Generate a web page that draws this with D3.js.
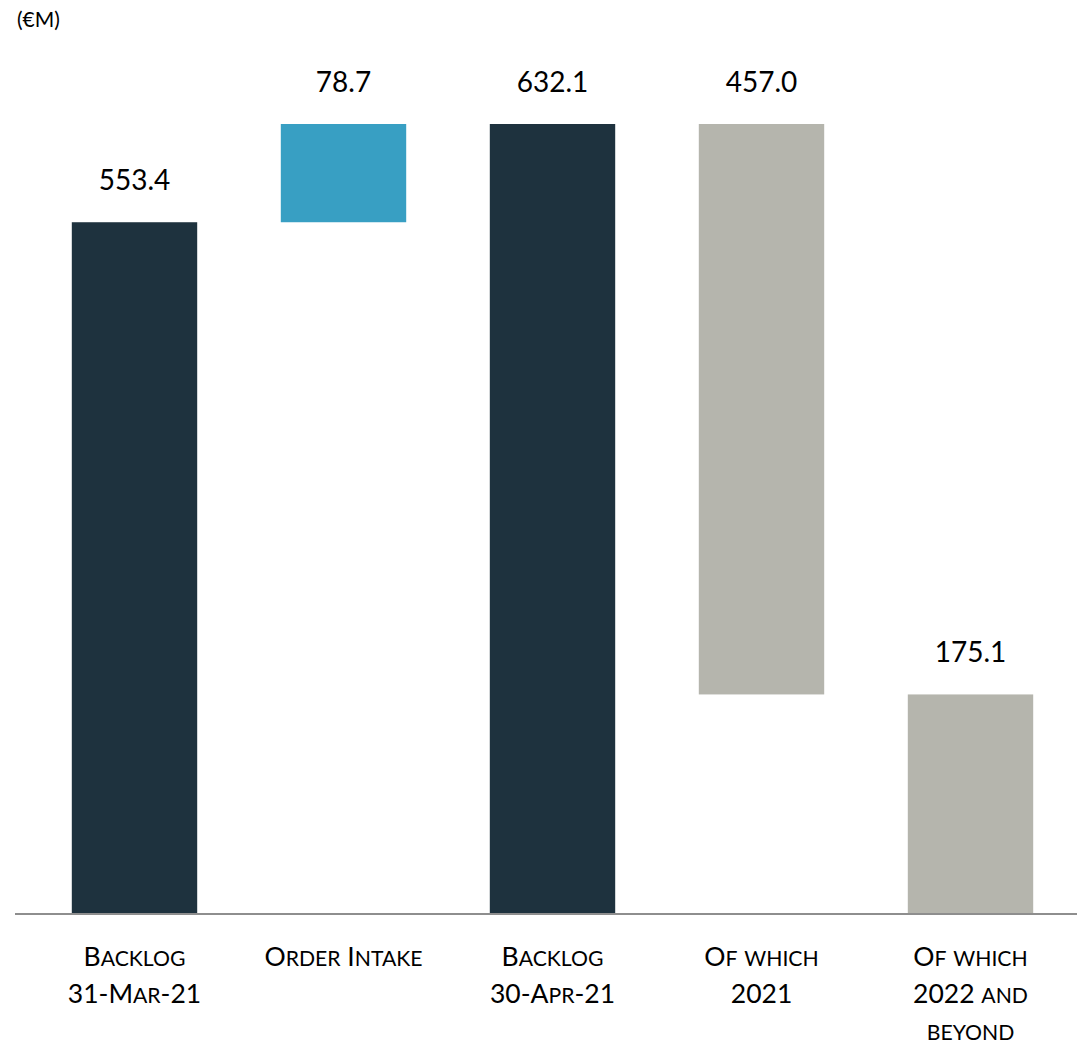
<!DOCTYPE html>
<html>
<head>
<meta charset="utf-8">
<script src="https://cdn.jsdelivr.net/npm/d3@7"></script>
<style>
  body { margin: 0; background: #fff; }
  svg { display: block; font-family: Lato, "Open Sans", sans-serif; }
</style>
</head>
<body>
<div id="chart"></div>
<script>
// Kategoriler (satır satır), değerler ve tip
const categories = [
  ["Backlog", "31-Mar-21"],
  ["Order Intake"],
  ["Backlog", "30-Apr-21"],
  ["Of which", "2021"],
  ["Of which", "2022 and", "beyond"]
];
const values = [553.4, 78.7, 632.1, 457.0, 175.1];
const kinds = ["total", "up", "total", "down", "total"];
const colors = { total: "#1e323e", up: "#389fc3", down: "#b5b5ad" };
const lastColor = "#b5b5ad";

const width = 1077, height = 1045;

// Waterfall: her bar için alt ve üst
let running = 0;
const bars = values.map((v, i) => {
  let lo, hi;
  if (kinds[i] === "total") { lo = 0; hi = v; running = v; }
  else if (kinds[i] === "up") { lo = running; hi = running + v; running = hi; }
  else { hi = running; lo = running - v; running = lo; }
  return { i, v, lo, hi, kind: kinds[i] };
});

const x = d3.scaleBand()
  .domain(d3.range(values.length))
  .range([30, 1075])
  .paddingInner(0.4)
  .paddingOuter(0.2);

const y = d3.scaleLinear()
  .domain([0, d3.max(bars, d => d.hi)])
  .range([913, 124]);

const svg = d3.select("#chart").append("svg")
  .attr("width", width)
  .attr("height", height);

// Birim etiketi
svg.append("text")
  .attr("x", 17).attr("y", 27)
  .attr("font-size", 21)
  .attr("fill", "#000")
  .text("(€M)");

// Barlar
svg.append("g").selectAll("rect")
  .data(bars)
  .join("rect")
  .attr("x", d => x(d.i))
  .attr("width", x.bandwidth())
  .attr("y", d => y(d.hi))
  .attr("height", d => y(d.lo) - y(d.hi))
  .attr("fill", d => d.i === bars.length - 1 ? lastColor : colors[d.kind]);

// Değer etiketleri
svg.append("g").selectAll("text")
  .data(bars)
  .join("text")
  .attr("x", d => x(d.i) + x.bandwidth() / 2)
  .attr("y", d => y(d.hi) - 32)
  .attr("text-anchor", "middle")
  .attr("font-size", 28)
  .attr("fill", "#000")
  .text(d => d.v.toFixed(1));

// Eksen çizgisi
svg.append("line")
  .attr("x1", 15).attr("x2", 1077)
  .attr("y1", y(0) + 1).attr("y2", y(0) + 1)
  .attr("stroke", "#8e8e8e")
  .attr("stroke-width", 2);

// Kategori etiketleri (small caps, elle)
const fs = 26.5, small = 0.8;
const lab = svg.append("g").selectAll("text")
  .data(categories)
  .join("text")
  .attr("text-anchor", "middle")
  .attr("fill", "#000")
  .attr("font-size", fs)
  .attr("transform", (d, i) => `translate(${x(i) + x.bandwidth() / 2},966)`);

lab.each(function (lines) {
  const t = d3.select(this);
  lines.forEach((line, li) => {
    // büyük/küçük harf gruplarına böl
    const runs = line.match(/[a-z]+|[^a-z]+/g);
    runs.forEach((r, ri) => {
      const ts = t.append("tspan").text(r.toUpperCase());
      if (/[a-z]/.test(r)) ts.attr("font-size", fs * small);
      if (ri === 0) ts.attr("x", 0).attr("dy", li === 0 ? 0 : 37);
    });
  });
});
</script>
</body>
</html>
